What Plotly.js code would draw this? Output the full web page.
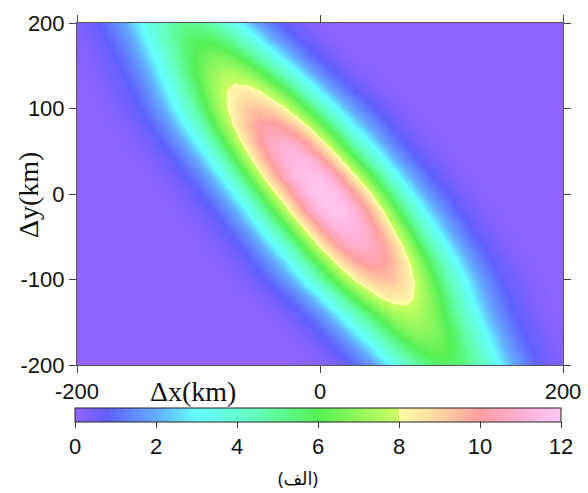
<!DOCTYPE html>
<html>
<head>
<meta charset="utf-8">
<script src="https://cdn.plot.ly/plotly-3.0.1.min.js"></script>
<style>html,body{margin:0;padding:0;background:#fff;}#chart{width:588px;height:493px;}</style>
</head>
<body>
<div id="chart"></div>
<script>
// Grid coordinates (km): columns every 10 km, rows every 20 km
var xKm = [-200,-190,-180,-170,-160,-150,-140,-130,-120,-110,-100,-90,-80,-70,-60,-50,-40,-30,-20,-10,
           0,10,20,30,40,50,60,70,80,90,100,110,120,130,140,150,160,170,180,190,200];
var yKm = [-200,-180,-160,-140,-120,-100,-80,-60,-40,-20,0,20,40,60,80,100,120,140,160,180,200];

// Field values, one row per Δy (x from -200 to 200)
var row_m200 = [0,0,0,0,0,0,0,0,0,0,0,0,0,0,0,0,0.01,0.02,0.04,0.08,0.17,0.32,0.58,0.97,1.53,2.26,3.12,4.03,4.86,5.48,5.78,5.71,5.26,4.54,3.67,2.77,1.95,1.29,0.80,0.46,0.25];
var row_m180 = [0,0,0,0,0,0,0,0,0,0,0,0,0,0,0,0.01,0.02,0.05,0.11,0.21,0.40,0.71,1.16,1.80,2.60,3.54,4.52,5.40,6.06,6.38,6.30,5.83,5.07,4.13,3.16,2.26,1.52,0.96,0.57,0.32,0.16];
var row_m160 = [0,0,0,0,0,0,0,0,0,0,0,0,0,0.01,0.01,0.03,0.07,0.14,0.28,0.50,0.86,1.38,2.09,2.97,3.98,5.02,5.96,6.65,6.98,6.90,6.41,5.60,4.61,3.57,2.60,1.78,1.15,0.70,0.40,0.21,0.11];
var row_m140 = [0,0,0,0,0,0,0,0,0,0,0,0,0.01,0.02,0.04,0.09,0.19,0.35,0.62,1.03,1.62,2.40,3.37,4.45,5.54,6.52,7.24,7.58,7.49,6.99,6.15,5.11,4.01,2.96,2.07,1.36,0.85,0.50,0.27,0.14,0.07];
var row_m120 = [0,0,0,0,0,0,0,0,0,0,0.01,0.01,0.03,0.07,0.13,0.25,0.46,0.79,1.28,1.96,2.85,3.93,5.11,6.30,7.35,8.11,8.48,8.39,7.85,6.96,5.83,4.63,3.48,2.47,1.66,1.06,0.64,0.36,0.20,0.10,0.05];
var row_m100 = [0,0,0,0,0,0,0,0,0,0.01,0.02,0.05,0.09,0.18,0.34,0.60,0.99,1.57,2.35,3.35,4.53,5.81,7.08,8.19,9.00,9.38,9.28,8.72,7.78,6.58,5.29,4.04,2.93,2.01,1.31,0.81,0.48,0.27,0.14,0.07,0.03];
var row_m80  = [0,0,0,0,0,0,0,0,0.01,0.02,0.05,0.10,0.20,0.37,0.65,1.09,1.72,2.58,3.67,4.96,6.37,7.76,8.98,9.86,10.28,10.17,9.55,8.52,7.22,5.80,4.43,3.21,2.21,1.44,0.89,0.53,0.29,0.16,0.08,0.04,0.02];
var row_m60  = [0,0,0,0,0,0,0,0.01,0.03,0.05,0.11,0.22,0.40,0.70,1.16,1.83,2.75,3.92,5.30,6.80,8.29,9.59,10.53,10.97,10.86,10.20,9.10,7.71,6.19,4.73,3.42,2.36,1.54,0.95,0.56,0.31,0.17,0.08,0.04,0.02,0.01];
var row_m40  = [0,0,0,0,0,0,0.01,0.03,0.06,0.12,0.23,0.42,0.73,1.21,1.92,2.88,4.10,5.54,7.11,8.66,10.02,11.01,11.47,11.35,10.67,9.51,8.06,6.48,4.94,3.58,2.46,1.61,1.00,0.59,0.33,0.17,0.09,0.04,0.02,0.01,0];
var row_m20  = [0,0,0,0,0,0.01,0.03,0.06,0.12,0.23,0.43,0.75,1.26,1.98,2.98,4.24,5.73,7.36,8.97,10.37,11.39,11.87,11.75,11.04,9.84,8.34,6.70,5.11,3.70,2.55,1.66,1.03,0.61,0.34,0.18,0.09,0.04,0.02,0.01,0,0];
var row_0    = [0,0,0,0,0.01,0.03,0.06,0.12,0.24,0.43,0.76,1.27,2.00,3.00,4.28,5.78,7.42,9.04,10.46,11.48,11.97,11.85,11.13,9.93,8.41,6.76,5.16,3.74,2.57,1.68,1.04,0.61,0.34,0.18,0.09,0.04,0.02,0.01,0,0,0];
var row_20   = [0,0,0.01,0.01,0.03,0.06,0.13,0.25,0.46,0.80,1.32,2.07,3.09,4.38,5.89,7.52,9.12,10.49,11.46,11.89,11.70,10.94,9.71,8.18,6.54,4.96,3.58,2.45,1.59,0.98,0.57,0.32,0.17,0.08,0.04,0.02,0.01,0,0,0,0];
var row_40   = [0,0.01,0.01,0.03,0.07,0.13,0.26,0.47,0.81,1.34,2.09,3.10,4.37,5.85,7.43,8.96,10.25,11.14,11.50,11.26,10.47,9.24,7.74,6.16,4.65,3.34,2.27,1.47,0.90,0.52,0.29,0.15,0.08,0.04,0.02,0.01,0,0,0,0,0];
var row_60   = [0.01,0.01,0.03,0.07,0.14,0.26,0.47,0.82,1.34,2.08,3.08,4.31,5.74,7.26,8.71,9.91,10.72,11.00,10.72,9.91,8.71,7.26,5.74,4.31,3.08,2.08,1.34,0.82,0.47,0.26,0.14,0.07,0.03,0.01,0.01,0,0,0,0,0,0];
var row_80   = [0.01,0.03,0.07,0.14,0.26,0.47,0.81,1.31,2.03,2.99,4.17,5.52,6.94,8.28,9.38,10.09,10.30,9.98,9.18,8.02,6.65,5.24,3.91,2.78,1.87,1.20,0.73,0.42,0.23,0.12,0.06,0.03,0.01,0.01,0,0,0,0,0,0,0];
var row_100  = [0.03,0.07,0.13,0.25,0.45,0.77,1.25,1.93,2.82,3.92,5.16,6.46,7.67,8.64,9.24,9.39,9.06,8.29,7.20,5.94,4.65,3.46,2.44,1.64,1.04,0.63,0.36,0.20,0.10,0.05,0.02,0.01,0,0,0,0,0,0,0,0,0];
var row_120  = [0.05,0.10,0.20,0.36,0.64,1.06,1.66,2.47,3.48,4.63,5.83,6.96,7.85,8.39,8.48,8.11,7.35,6.30,5.11,3.93,2.85,1.96,1.28,0.79,0.46,0.25,0.13,0.07,0.03,0.01,0.01,0,0,0,0,0,0,0,0,0,0];
var row_140  = [0.08,0.15,0.29,0.53,0.89,1.42,2.15,3.06,4.11,5.22,6.25,7.06,7.52,7.57,7.18,6.43,5.44,4.34,3.26,2.32,1.55,0.98,0.59,0.33,0.18,0.09,0.04,0.02,0.01,0,0,0,0,0,0,0,0,0,0,0,0];
var row_160  = [0.12,0.23,0.43,0.74,1.20,1.85,2.66,3.61,4.61,5.54,6.26,6.65,6.65,6.26,5.54,4.61,3.61,2.66,1.85,1.20,0.74,0.43,0.23,0.12,0.06,0.03,0.01,0,0,0,0,0,0,0,0,0,0,0,0,0,0];
var row_180  = [0.19,0.35,0.62,1.02,1.59,2.32,3.18,4.08,4.91,5.54,5.87,5.83,5.44,4.75,3.90,3.00,2.16,1.46,0.93,0.55,0.31,0.16,0.08,0.04,0.02,0.01,0,0,0,0,0,0,0,0,0,0,0,0,0,0,0];
var row_200  = [0.29,0.52,0.87,1.38,2.03,2.80,3.61,4.36,4.91,5.18,5.12,4.72,4.07,3.29,2.48,1.75,1.16,0.71,0.41,0.22,0.11,0.05,0.02,0.01,0,0,0,0,0,0,0,0,0,0,0,0,0,0,0,0,0];

// Tick labels
var xTickVals = [-200, 0, 200];
var xTickText = ['-200', '0', '200'];
var yTickVals = [-200, -100, 0, 100, 200];
var yTickText = ['-200', '-100', '0', '100', '200'];
var cbTickVals = [0, 2, 4, 6, 8, 10, 12];
var cbTickText = ['0', '2', '4', '6', '8', '10', '12'];

var xLabel = 'Δx(km)';
var yLabel = 'Δy(km)';
var caption = '(الف)';

var zGrid = [row_m200,row_m180,row_m160,row_m140,row_m120,row_m100,row_m80,row_m60,row_m40,row_m20,
             row_0,row_20,row_40,row_60,row_80,row_100,row_120,row_140,row_160,row_180,row_200];

var cscale = [
  [0.0,    'rgb(146,100,255)'],
  [0.067,  'rgb(96,96,255)'],
  [0.167,  'rgb(100,172,255)'],
  [0.25,   'rgb(100,255,255)'],
  [0.375,  'rgb(100,255,185)'],
  [0.5,    'rgb(86,240,86)'],
  [0.6664, 'rgb(205,255,100)'],
  [0.6667, 'rgb(255,255,168)'],
  [0.75,   'rgb(255,212,162)'],
  [0.8333, 'rgb(255,160,160)'],
  [0.9167, 'rgb(255,176,212)'],
  [1.0,    'rgb(255,200,245)']
];

var tickFont = {family: 'Liberation Sans, Arial, sans-serif', size: 22, color: '#111'};

var trace = {
  type: 'heatmap',
  x: xKm, y: yKm, z: zGrid,
  zmin: 0, zmax: 12,
  zsmooth: 'best',
  colorscale: cscale,
  hoverinfo: 'skip',
  colorbar: {
    orientation: 'h',
    x: 0.4959, xanchor: 'center',
    y: -0.1257, yanchor: 'top',
    len: 486, lenmode: 'pixels',
    thickness: 14,
    xpad: 0, ypad: 0,
    outlinewidth: 1, outlinecolor: '#222',
    tickmode: 'array', tickvals: cbTickVals, ticktext: cbTickText,
    ticks: 'outside', ticklen: 6, tickcolor: '#333', tickwidth: 1,
    tickfont: tickFont
  }
};

var layout = {
  width: 588, height: 493,
  margin: {l: 77, r: 25, t: 23, b: 128},
  paper_bgcolor: '#fff', plot_bgcolor: '#fff',
  showlegend: false,
  xaxis: {
    range: [-200, 200], tickmode: 'array', tickvals: xTickVals, ticktext: xTickText,
    ticks: 'outside', ticklen: 7, tickcolor: '#444', tickwidth: 1,
    showline: true, linecolor: '#555', linewidth: 1, mirror: 'ticks',
    showgrid: false, zeroline: false, tickfont: tickFont, fixedrange: true
  },
  yaxis: {
    range: [-200, 200], tickmode: 'array', tickvals: yTickVals, ticktext: yTickText,
    ticks: 'outside', ticklen: 7, tickcolor: '#444', tickwidth: 1,
    showline: true, linecolor: '#555', linewidth: 1, mirror: 'ticks',
    showgrid: false, zeroline: false, tickfont: tickFont, fixedrange: true
  },
  annotations: [
    {text: xLabel, xref: 'paper', yref: 'paper', x: 0.2387, y: -0.0789,
     xanchor: 'center', yanchor: 'middle', showarrow: false,
     font: {family: 'Liberation Serif, Times New Roman, serif', size: 28, color: '#111'}},
    {text: yLabel, xref: 'paper', yref: 'paper', x: -0.1008, y: 0.497,
     xanchor: 'center', yanchor: 'middle', showarrow: false, textangle: -90,
     font: {family: 'Liberation Serif, Times New Roman, serif', size: 28, color: '#111'}},
    {text: caption, xref: 'paper', yref: 'paper', x: (298 - 77) / 486, y: (365 - 478) / 342,
     xanchor: 'center', yanchor: 'middle', showarrow: false,
     font: {family: 'Noto Sans, DejaVu Sans, sans-serif', size: 18, color: '#111'}}
  ]
};

Plotly.newPlot('chart', [trace], layout, {displayModeBar: false, staticPlot: true});
</script>
</body>
</html>
